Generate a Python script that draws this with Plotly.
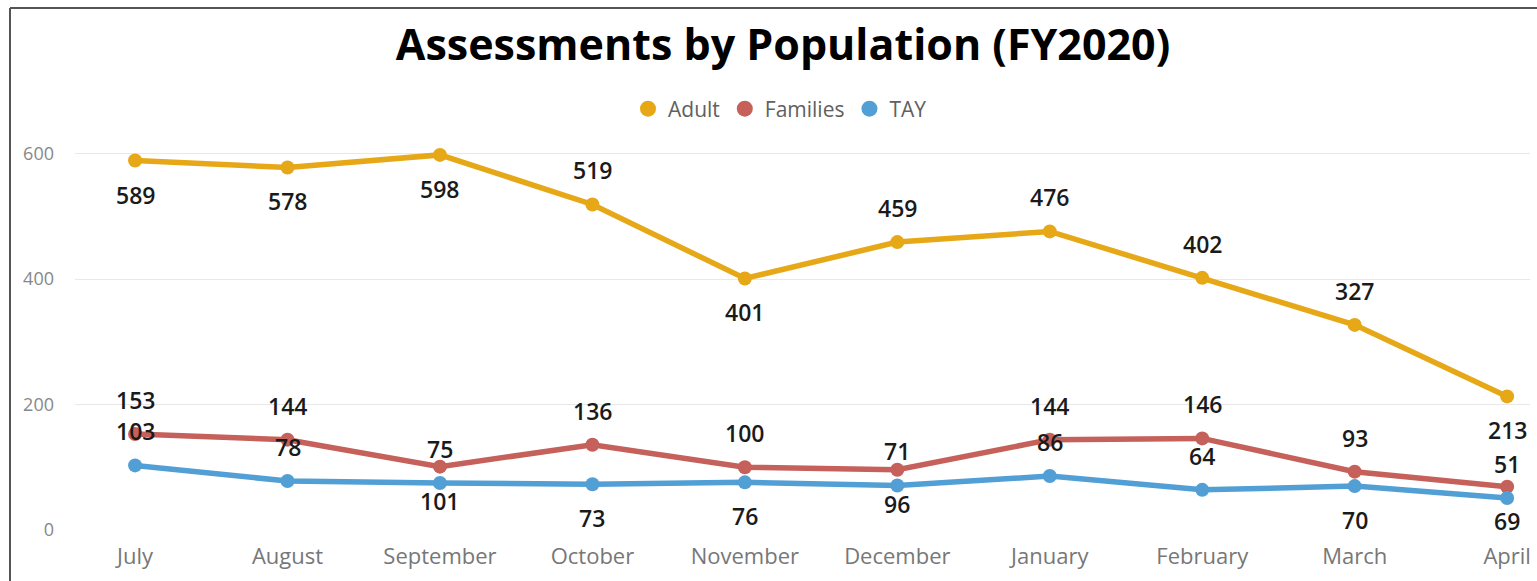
import plotly.graph_objects as go

months = ["July", "August", "September", "October", "November", "December",
          "January", "February", "March", "April"]
adult = [589, 578, 598, 519, 401, 459, 476, 402, 327, 213]
families = [153, 144, 101, 136, 100, 96, 144, 146, 93, 69]
tay = [103, 78, 75, 73, 76, 71, 86, 64, 70, 51]

# label placement per point: 1 = above, -1 = below
adult_pos = [-1, -1, -1, 1, -1, 1, 1, 1, 1, -1]
families_pos = [1, 1, -1, 1, 1, -1, 1, 1, 1, -1]
tay_pos = [1, 1, 1, -1, -1, 1, 1, 1, -1, 1]

colors = {"Adult": "#E6A817", "Families": "#C5605A", "TAY": "#519FD5"}

W, H = 1537, 581
ML, MR, MT, MB = 75, 7, 116, 51

fig = go.Figure()
series = [("Adult", adult, adult_pos), ("Families", families, families_pos), ("TAY", tay, tay_pos)]
for name, vals, _ in series:
    fig.add_trace(go.Scatter(
        x=months, y=vals, mode="lines+markers", name=name, showlegend=False,
        line=dict(color=colors[name], width=5.5),
        marker=dict(color=colors[name], size=14),
        hoverinfo="x+y"))
for name, _, _ in series:
    fig.add_trace(go.Scatter(
        x=[None], y=[None], mode="markers", name=name, showlegend=True,
        marker=dict(color=colors[name], size=17)))

annotations = []
for name, vals, pos in series:
    for m, v, p in zip(months, vals, pos):
        annotations.append(dict(
            x=m, y=v, xref="x", yref="y", text=str(v), showarrow=False,
            yshift=34 * p,
            font=dict(family="Open Sans", size=23, color="#1a1a1a", weight=600)))

pw = W - ML - MR
ph = H - MT - MB
def px(xp):
    return (xp - ML) / pw
def py(yp):
    return (H - MB - yp) / ph

shapes = [
    dict(type="line", xref="paper", yref="paper", x0=px(10), x1=px(10),
         y0=py(H + 5), y1=py(8), line=dict(color="#555555", width=2)),
    dict(type="line", xref="paper", yref="paper", x0=px(10), x1=px(W + 5),
         y0=py(8), y1=py(8), line=dict(color="#555555", width=2)),
]

fig.update_layout(
    width=W, height=H,
    margin=dict(l=ML, r=MR, t=MT, b=MB),
    paper_bgcolor="white", plot_bgcolor="white",
    title=dict(text="<b>Assessments by Population (FY2020)</b>",
               x=px(783), xref="paper", xanchor="center", y=1 - 45 / H, yanchor="middle",
               font=dict(family="Open Sans", size=43, color="#000000")),
    legend=dict(orientation="h", x=px(780), xanchor="center", y=py(109), yanchor="middle",
                font=dict(family="Open Sans", size=21, color="#606060"),
                itemwidth=30, tracegroupgap=0),
    xaxis=dict(range=[-0.394, 9.15], showgrid=False, zeroline=False, showline=False,
               tickfont=dict(family="Open Sans", size=22, color="#777777"),
               ticks="", ticklabelstandoff=11),
    yaxis=dict(range=[0, 660], tickvals=[0, 200, 400, 600], showgrid=True,
               gridcolor="#E8E8E8", gridwidth=1, zeroline=False, showline=False,
               tickfont=dict(family="Open Sans", size=18, color="#888888"),
               ticks="", ticklabelstandoff=20),
    annotations=annotations,
    shapes=shapes,
    showlegend=True,
)

fig.write_html("out.html", config={"displayModeBar": False},
               post_script="document.body.style.margin='0px';document.body.style.overflow='hidden';")
